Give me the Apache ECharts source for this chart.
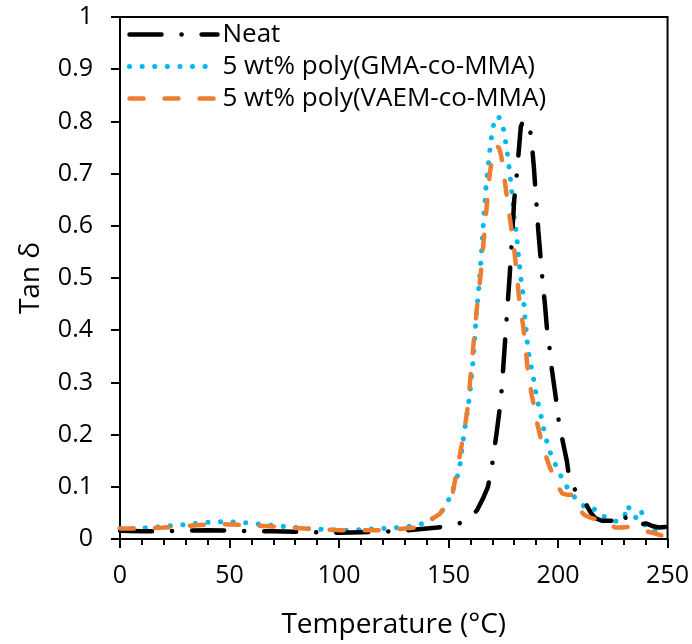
<!DOCTYPE html>
<html><head><meta charset="utf-8">
<script src="https://cdn.jsdelivr.net/npm/echarts@6/dist/echarts.min.js"></script>
<style>html,body{margin:0;padding:0;background:#fff}#c{width:692px;height:644px}</style>
</head><body><div id="c"></div>
<script>
var seriesNames = ["Neat", "5 wt% poly(GMA-co-MMA)", "5 wt% poly(VAEM-co-MMA)"];
var xTicks = [0, 50, 100, 150, 200, 250];
var yTicks = [0, 0.1, 0.2, 0.3, 0.4, 0.5, 0.6, 0.7, 0.8, 0.9, 1];

var neatT = [0,10,20,30,40,50,60,70,80,90,100,110,120,130,140,145,150,155,160,163,166,168,170,172,174,176,177,178,179,180,181,182,183,184,185,186,187,188,189,190,191,192,193,194,195,196,197,198,199,200,201,202,203,204,205,207,209,211,213,215,217,220,223,226,229,231,234,237,240,243,246,249];
var neatV = [0.016,0.015,0.015,0.016,0.017,0.016,0.015,0.015,0.014,0.013,0.012,0.013,0.014,0.016,0.02,0.022,0.025,0.03,0.042,0.055,0.08,0.1,0.145,0.205,0.27,0.39,0.45,0.51,0.58,0.65,0.69,0.74,0.79,0.80,0.80,0.802,0.79,0.76,0.71,0.65,0.59,0.54,0.49,0.45,0.40,0.37,0.33,0.30,0.27,0.235,0.21,0.19,0.17,0.15,0.12,0.10,0.085,0.078,0.065,0.05,0.04,0.035,0.035,0.035,0.05,0.04,0.03,0.027,0.03,0.025,0.022,0.023];

var gmaT = [0,5,10,15,20,25,30,35,40,45,50,55,60,65,70,75,80,85,90,95,100,105,110,115,120,125,130,135,140,143,146,148,150,152,154,155,157,159,160,161,162,163,164,165,166,167,168,169,170,171,172,173,174,175,176,177,178,179,180,181,182,183,184,185,186,187,188,189,190,192,194,196,198,200,202,204,206,208,210,212,214,216,218,220,222,224,226,228,230,232,233,234,236,238,239,240,242,244,246,248,249];
var gmaV = [0.02,0.02,0.021,0.022,0.024,0.026,0.028,0.03,0.032,0.033,0.033,0.032,0.03,0.028,0.026,0.024,0.022,0.02,0.019,0.018,0.017,0.017,0.018,0.019,0.02,0.021,0.023,0.026,0.032,0.04,0.05,0.058,0.075,0.095,0.12,0.135,0.2,0.255,0.29,0.33,0.39,0.445,0.49,0.545,0.61,0.67,0.71,0.75,0.785,0.80,0.81,0.808,0.80,0.787,0.762,0.735,0.70,0.66,0.615,0.585,0.54,0.50,0.47,0.42,0.375,0.345,0.325,0.302,0.277,0.24,0.20,0.17,0.15,0.132,0.115,0.10,0.088,0.078,0.07,0.062,0.058,0.06,0.05,0.044,0.042,0.038,0.034,0.035,0.04,0.065,0.05,0.045,0.04,0.055,0.035,0.022,0.02,0.016,0.012,0.007,0.005];

var vaemT = [0,10,20,30,40,45,50,60,70,80,90,100,110,120,130,135,140,143,146,149,152,154,156,158,159,160,161,162,163,164,165,166,167,168,169,170,171,172,173,174,175,176,177,178,179,180,181,182,183,184,185,186,187,188,189,190,192,194,196,198,200,202,204,206,208,210,212,214,217,220,223,226,229,232,235,238,241,244,247,249];
var vaemV = [0.02,0.02,0.022,0.025,0.028,0.029,0.028,0.026,0.024,0.021,0.019,0.017,0.017,0.017,0.02,0.022,0.03,0.04,0.048,0.065,0.09,0.135,0.18,0.23,0.26,0.31,0.355,0.40,0.445,0.48,0.52,0.57,0.615,0.665,0.705,0.732,0.745,0.752,0.75,0.735,0.71,0.675,0.645,0.615,0.585,0.555,0.515,0.47,0.435,0.41,0.375,0.33,0.30,0.275,0.256,0.23,0.195,0.165,0.14,0.12,0.10,0.087,0.085,0.085,0.07,0.055,0.046,0.042,0.038,0.034,0.03,0.022,0.022,0.023,0.022,0.018,0.014,0.011,0.007,0.005];

function zip(a, b) { return a.map(function (t, i) { return [t, b[i]]; }); }

var styles = [
  { color: '#000', width: 4.5, type: [32, 20, 0.1, 20], cap: 'round' },
  { color: '#00B8F0', width: 5, type: [0.1, 12.5], cap: 'round' },
  { color: '#ED7D31', width: 4.5, type: [14, 21], cap: 'round' }
];

var FONT = 'Open Sans';
var chart = echarts.init(document.getElementById('c'));
chart.setOption({
  animation: false,
  backgroundColor: '#fff',
  textStyle: { fontFamily: FONT },
  grid: { left: 120, right: 24, top: 17, bottom: 103, show: true, borderColor: '#000', borderWidth: 2 },
  legend: {
    left: 122, top: 16, orient: 'vertical',
    itemWidth: 88, itemHeight: 12, itemGap: 5,
    itemStyle: { opacity: 0 },
    textStyle: { fontFamily: FONT, fontSize: 26, color: '#000', lineHeight: 27 },
    data: seriesNames.map(function (n, i) { return { name: n, lineStyle: styles[i] }; })
  },
  xAxis: {
    type: 'value', min: xTicks[0], max: xTicks[xTicks.length - 1], interval: 50,
    name: 'Temperature (°C)', nameLocation: 'middle', nameGap: 72,
    nameTextStyle: { fontFamily: FONT, fontSize: 28, color: '#000' },
    axisLine: { show: true, lineStyle: { color: '#000', width: 2 } },
    axisTick: { show: true, inside: false, length: 9, lineStyle: { color: '#000', width: 2 } },
    minorTick: { show: true, splitNumber: 5, length: 6, lineStyle: { color: '#000', width: 2 } },
    axisLabel: { fontFamily: FONT, fontSize: 25, color: '#000', margin: 24 },
    splitLine: { show: false }
  },
  yAxis: {
    type: 'value', min: yTicks[0], max: yTicks[yTicks.length - 1], interval: 0.1,
    name: 'Tan δ', nameLocation: 'middle', nameGap: 75, nameRotate: 90,
    nameTextStyle: { fontFamily: FONT, fontSize: 28, color: '#000' },
    axisLine: { show: true, lineStyle: { color: '#000', width: 2 } },
    axisTick: { show: true, inside: false, length: 9, lineStyle: { color: '#000', width: 2 } },
    axisLabel: { fontFamily: FONT, fontSize: 25, color: '#000', margin: 27 },
    splitLine: { show: false }
  },
  series: [
    { name: seriesNames[0], type: 'line', data: zip(neatT, neatV), showSymbol: false, symbol: 'none', z: 3,
      itemStyle: { color: '#000' }, lineStyle: styles[0] },
    { name: seriesNames[1], type: 'line', data: zip(gmaT, gmaV), showSymbol: false, symbol: 'none', z: 2,
      itemStyle: { color: '#00B8F0' }, lineStyle: styles[1] },
    { name: seriesNames[2], type: 'line', data: zip(vaemT, vaemV), showSymbol: false, symbol: 'none', z: 4,
      itemStyle: { color: '#ED7D31' }, lineStyle: styles[2] }
  ]
});
</script></body></html>
